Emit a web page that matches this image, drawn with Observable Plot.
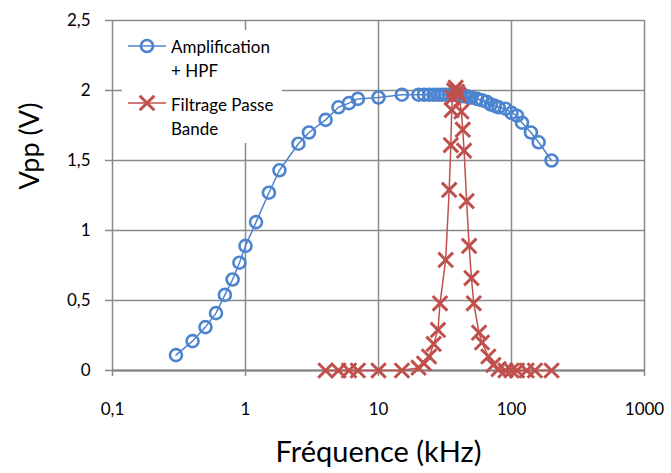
<!DOCTYPE html>
<html><head><meta charset="utf-8">
<script src="https://cdn.jsdelivr.net/npm/d3@7"></script>
<script src="https://cdn.jsdelivr.net/npm/@observablehq/plot@0.6"></script>
<style>
html,body{margin:0;padding:0;background:#fff;}
#wrap{position:relative;width:671px;height:473px;font-family:Lato,sans-serif;}
#legend{position:absolute;left:122px;top:30px;}
</style></head><body><div id="wrap"></div>
<script>
// Series 1: Amplification + HPF
const ampFreq = [0.3,0.4,0.5,0.6,0.7,0.8,0.9,1,1.2,1.5,1.8,2.5,3,4,5,6,7,10,15,20,22,24,26,28,30,32,34,36,38,40,42,44,46,48,50,55,60,65,70,75,80,90,100,110,120,140,160,200];
const ampVpp  = [0.11,0.21,0.31,0.41,0.54,0.65,0.77,0.89,1.06,1.27,1.43,1.62,1.70,1.79,1.88,1.91,1.94,1.95,1.97,1.97,1.97,1.97,1.97,1.97,1.97,1.97,1.97,1.97,1.97,1.97,1.96,1.96,1.96,1.95,1.95,1.94,1.93,1.92,1.90,1.89,1.88,1.87,1.84,1.82,1.77,1.70,1.63,1.50];
// Series 2: Filtrage Passe Bande
const bpFreq = [4,5,6,7,10,15,20,22,24,26,28,29,32,34,35,35.5,36,37,38,39,40,42,43,44,46,48,50,52,57,60,67,73,80,90,100,110,130,150,200];
const bpVpp  = [0,0,0,0,0,0,0.02,0.05,0.1,0.19,0.29,0.48,0.79,1.29,1.61,1.86,1.95,2.0,2.02,1.99,1.97,1.85,1.72,1.57,1.21,0.89,0.66,0.48,0.27,0.2,0.1,0.04,0.01,0,0,0,0,0,0];

const seriesNames = ["Amplification", "+ HPF", "Filtrage Passe", "Bande"];
const xTicks = [0.1,1,10,100,1000];
const xTickLabels = ["0,1","1","10","100","1000"];
const yTicks = [0,0.5,1,1.5,2,2.5];
const yTickLabels = ["0","0,5","1","1,5","2","2,5"];
const xTitle = "Fréquence (kHz)";
const yTitle = "Vpp (V)";

const amp = ampFreq.map((f,i)=>({f, v: ampVpp[i]}));
const bp = bpFreq.map((f,i)=>({f, v: bpVpp[i]}));

const blue = "#4D84CF", red = "#C0504D", grid = "#8A8A8A";
const font = "Lato, sans-serif";

const chart = Plot.plot({
  width: 671, height: 473,
  marginLeft: 112, marginRight: 27, marginTop: 20, marginBottom: 103,
  style: {fontFamily: font, background: "#fff", color: "black"},
  x: {type: "log", domain: [0.1, 1000]},
  y: {domain: [0, 2.5]},
  marks: [
    Plot.gridX(xTicks, {stroke: grid, strokeOpacity: 1, strokeWidth: 1.5}),
    Plot.gridY(yTicks, {stroke: grid, strokeOpacity: 1, strokeWidth: 1.5}),
    Plot.ruleY([0], {stroke: "#7f7f7f", strokeWidth: 2}),
    Plot.axisY(yTicks, {tickFormat: d => yTickLabels[yTicks.indexOf(d)], tickSize: 7, tickPadding: 15, fontSize: 17, stroke: grid, strokeWidth: 1.5, fill: "black", label: null}),
    Plot.axisX(xTicks, {tickFormat: d => xTickLabels[xTicks.indexOf(d)], tickSize: 6, tickPadding: 26, fontSize: 17, stroke: grid, strokeWidth: 1.5, fill: "black", label: null}),
    Plot.line(amp, {x: "f", y: "v", stroke: blue, strokeWidth: 1.5}),
    Plot.dot(amp, {x: "f", y: "v", r: 6, stroke: blue, strokeWidth: 2.6, fill: "none"}),
    Plot.line(bp, {x: "f", y: "v", stroke: red, strokeWidth: 1.5}),
    Plot.dot(bp, {x: "f", y: "v", symbol: "times", r: 6.7, stroke: red, strokeWidth: 3}),
    Plot.text([yTitle], {text: d => d, frameAnchor: "left", rotate: -90, dx: -74, dy: -6, lineAnchor: "bottom", fontSize: 27, fill: "black"}),
    Plot.text([xTitle], {text: d => d, frameAnchor: "bottom", dy: 91, lineAnchor: "bottom", fontSize: 29, fill: "black"})
  ]
});
const wrap = document.getElementById("wrap");
wrap.appendChild(chart);

// Legend overlay
const leg = d3.create("svg").attr("id","legend").attr("width",160).attr("height",113)
  .style("font-family", font);
leg.append("rect").attr("width",160).attr("height",113).attr("fill","#fff");
// blue entry
leg.append("line").attr("x1",6).attr("x2",44).attr("y1",16).attr("y2",16).attr("stroke",blue).attr("stroke-width",1.5);
leg.append("circle").attr("cx",25).attr("cy",16).attr("r",6).attr("fill","none").attr("stroke",blue).attr("stroke-width",2.6);
leg.append("text").attr("x",49).attr("y",23).attr("font-size",17).attr("fill","black").text(seriesNames[0]);
leg.append("text").attr("x",49).attr("y",47).attr("font-size",17).attr("fill","black").text(seriesNames[1]);
// red entry
leg.append("line").attr("x1",6).attr("x2",44).attr("y1",73).attr("y2",73).attr("stroke",red).attr("stroke-width",1.5);
leg.append("path").attr("d", d3.symbol(d3.symbolTimes, Math.PI*6.7*6.7)()).attr("transform","translate(25,73)")
  .attr("fill","none").attr("stroke",red).attr("stroke-width",3);
leg.append("text").attr("x",49).attr("y",81).attr("font-size",17).attr("fill","black").text(seriesNames[2]);
leg.append("text").attr("x",49).attr("y",105).attr("font-size",17).attr("fill","black").text(seriesNames[3]);
wrap.appendChild(leg.node());
</script></body></html>
